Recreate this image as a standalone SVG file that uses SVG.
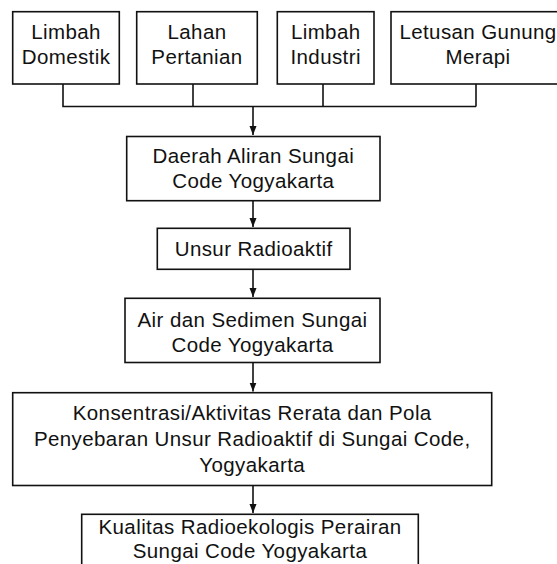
<svg xmlns="http://www.w3.org/2000/svg" width="557" height="564" viewBox="0 0 557 564">
<style>
.box{fill:#fff;stroke:#111;stroke-width:1.6}
.t{font-family:"Liberation Sans",Arial,sans-serif;font-size:20.5px;letter-spacing:0.4px;fill:#111;text-anchor:middle}
.c{fill:none;stroke:#111;stroke-width:1.6}
</style>
<defs>
<marker id="ah" markerUnits="userSpaceOnUse" markerWidth="10" markerHeight="8" refX="9" refY="3.5" orient="auto">
<path d="M0,0 L9,3.5 L0,7 z" fill="#111"/>
</marker>
</defs>
<rect width="557" height="564" fill="#fff"/>
<g id="connectors">
<polyline class="c" points="63,84 63,106.5 476,106.5"/>
<line class="c" x1="193" y1="84" x2="193" y2="106.5"/>
<line class="c" x1="323" y1="84" x2="323" y2="106.5"/>
<line class="c" x1="476" y1="84" x2="476" y2="106.5"/>
<line class="c" x1="253" y1="106.5" x2="253" y2="135" marker-end="url(#ah)"/>
<line class="c" x1="253" y1="200.7" x2="253" y2="227" marker-end="url(#ah)"/>
<line class="c" x1="253" y1="269.3" x2="253" y2="297" marker-end="url(#ah)"/>
<line class="c" x1="253" y1="362.5" x2="253" y2="391.5" marker-end="url(#ah)"/>
<line class="c" x1="253" y1="485.5" x2="253" y2="513" marker-end="url(#ah)"/>
</g>
<g id="limbah-domestik">
<rect class="box" x="12.7" y="11.7" width="106.6" height="72.3"/>
<text class="t" x="66" y="39">Limbah</text>
<text class="t" x="66" y="64.3">Domestik</text>
</g>
<g id="lahan-pertanian">
<rect class="box" x="136.7" y="11.7" width="120.6" height="72.3"/>
<text class="t" x="197" y="39">Lahan</text>
<text class="t" x="197" y="64.3">Pertanian</text>
</g>
<g id="limbah-industri">
<rect class="box" x="277.3" y="11.7" width="96.7" height="72.3"/>
<text class="t" x="325.7" y="39">Limbah</text>
<text class="t" x="325.7" y="64.3">Industri</text>
</g>
<g id="letusan-gunung-merapi">
<rect class="box" x="391" y="11.7" width="174" height="72.3"/>
<text class="t" x="478" y="39">Letusan Gunung</text>
<text class="t" x="478" y="64.3">Merapi</text>
</g>
<g id="daerah-aliran">
<rect class="box" x="126.7" y="136.5" width="253.3" height="64.2"/>
<text class="t" x="253.3" y="163.3">Daerah Aliran Sungai</text>
<text class="t" x="253.3" y="188.3">Code Yogyakarta</text>
</g>
<g id="unsur-radioaktif">
<rect class="box" x="157.3" y="228.3" width="192.7" height="41"/>
<text class="t" x="253.7" y="256">Unsur Radioaktif</text>
</g>
<g id="air-sedimen">
<rect class="box" x="125" y="298.3" width="255" height="64.2"/>
<text class="t" x="252.5" y="326.7">Air dan Sedimen Sungai</text>
<text class="t" x="252.5" y="351.7">Code Yogyakarta</text>
</g>
<g id="konsentrasi">
<rect class="box" x="12.7" y="392.7" width="479" height="92.8"/>
<text class="t" x="252.2" y="420">Konsentrasi/Aktivitas Rerata dan Pola</text>
<text class="t" x="252.2" y="446">Penyebaran Unsur Radioaktif di Sungai Code,</text>
<text class="t" x="252.2" y="472">Yogyakarta</text>
</g>
<g id="kualitas">
<rect class="box" x="81.7" y="514.3" width="336.6" height="60"/>
<text class="t" x="250" y="534">Kualitas Radioekologis Perairan</text>
<text class="t" x="250" y="557.5">Sungai Code Yogyakarta</text>
</g>
</svg>
